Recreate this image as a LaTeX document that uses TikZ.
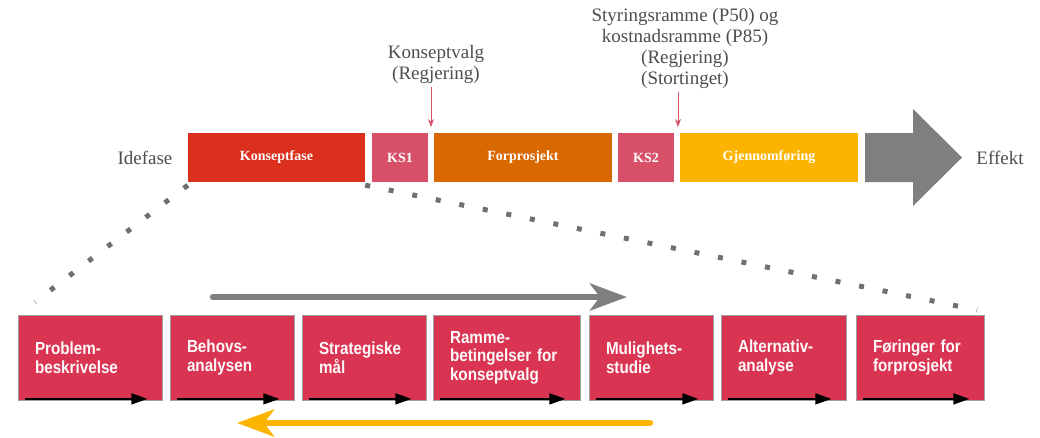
\documentclass[tikz,border=0pt]{standalone}
\usepackage{fontspec}
\setmainfont{Liberation Serif}
\newfontfamily\boxfont[FakeStretch=0.87]{Liberation Sans}
\usetikzlibrary{arrows.meta}

\definecolor{konsept}{HTML}{DC301E}
\definecolor{kspink}{HTML}{D75068}
\definecolor{forprosj}{HTML}{D96800}
\definecolor{gjennom}{HTML}{FDB400}
\definecolor{pilgraa}{HTML}{7F7F7F}
\definecolor{prikkgraa}{HTML}{707070}
\definecolor{trinnfyll}{HTML}{D93553}
\definecolor{trinnkant}{HTML}{A0A0A0}
\definecolor{tekst}{HTML}{4D4D4D}

\tikzset{
  fase/.style={fill=#1, minimum height=49pt, inner sep=0pt, text=white,
    font=\fontsize{14}{16}\selectfont\bfseries},
  trinn/.style={draw=trinnkant, line width=0.8pt, fill=trinnfyll, minimum height=85pt,
    inner xsep=17pt, inner ysep=0pt, align=left, text=white!92!pink,
    font=\boxfont\fontsize{17.5}{18.5}\selectfont\bfseries},
  merknad/.style={align=center, text=tekst, font=\fontsize{19}{21}\selectfont},
  beslutning/.style={-{Stealth[length=8pt,width=6pt]}, kspink, line width=0.9pt},
  prikk/.style={prikkgraa, line width=5pt, dash pattern=on 5pt off 19pt},
  lilpil/.style={-{Triangle[length=16pt,width=11pt]}, line width=1.5pt, black},
  storpil/.style={line width=6.5pt, line cap=round, -{Stealth[length=37pt,width=27pt,inset=10pt]}}
}

\begin{document}
\begin{tikzpicture}[x=1pt, y=-1pt]
    \useasboundingbox (0,0) rectangle (1040,437);

    % faser
    \node[fase=konsept, minimum width=177pt] (konseptfase) at (276.5,157.5) {Konseptfase};
    \node[fase=kspink, minimum width=56pt] (ks1) at (400,157.5) {KS1};
    \node[fase=forprosj, minimum width=178pt] (forprosjekt) at (523,157.5) {Forprosjekt};
    \node[fase=kspink, minimum width=56pt] (ks2) at (646,157.5) {KS2};
    \node[fase=gjennom, minimum width=178pt] (gjennomforing) at (769,157.5) {Gjennomføring};
    \fill[pilgraa] (865,133) -- (913,133) -- (913,109) -- (962,157.5) -- (913,206) -- (913,182) -- (865,182) -- cycle;

    \node[merknad] (idefase) at (145,157.5) {Idefase};
    \node[merknad] (effekt) at (1000,157.5) {Effekt};

    % beslutninger
    \node[merknad] (konseptvalg) at (436,64) {Konseptvalg\\(Regjering)};
    \node[merknad] (styring) at (685,48) {Styringsramme (P50) og\\kostnadsramme (P85)\\(Regjering)\\(Stortinget)};
    \coordinate (kvpunkt) at (431,127);
    \coordinate (srpunkt) at (678,127);
    \draw[beslutning] (konseptvalg.south -| kvpunkt) -- (kvpunkt);
    \draw[beslutning] (styring.south -| srpunkt) -- (srpunkt);

    % utsnitt
    \coordinate (venstre) at (35,302);
    \coordinate (hoyre) at (977,310);
    \draw[prikk] ([yshift=-3pt]konseptfase.south west) -- (venstre);
    \draw[prikk] ([yshift=-3pt]konseptfase.south east) -- (hoyre);

    % trinn i konseptfasen
    \node[trinn, text width=110pt] (t1) at (90,357.5) {Problem-\\beskrivelse};
    \node[trinn, text width=90pt] (t2) at (232,357.5) {Behovs-\\analysen};
    \node[trinn, text width=90pt] (t3) at (364,357.5) {Strategiske\\mål};
    \node[trinn, text width=113pt] (t4) at (506.5,357.5) {Ramme-\\betingelser for\\konseptvalg};
    \node[trinn, text width=90pt] (t5) at (651,357.5) {Mulighets-\\studie};
    \node[trinn, text width=91pt] (t6) at (783.5,357.5) {Alternativ-\\analyse};
    \node[trinn, text width=94pt] (t7) at (920,357.5) {Føringer for\\forprosjekt};
    \foreach \t in {t1,t2,t3,t4,t5,t6,t7}
      \draw[lilpil] ([xshift=7pt,yshift=1.5pt]\t.south west) -- ([xshift=-15pt,yshift=1.5pt]\t.south east);

    \coordinate (fremstart) at (213,297);
    \coordinate (fremslutt) at (627,297);
    \coordinate (tilbakestart) at (650,423);
    \coordinate (tilbakeslutt) at (237,423);
    \draw[storpil, pilgraa] (fremstart) -- (fremslutt);
    \draw[storpil, gjennom] (tilbakestart) -- (tilbakeslutt);
\end{tikzpicture}
\end{document}
